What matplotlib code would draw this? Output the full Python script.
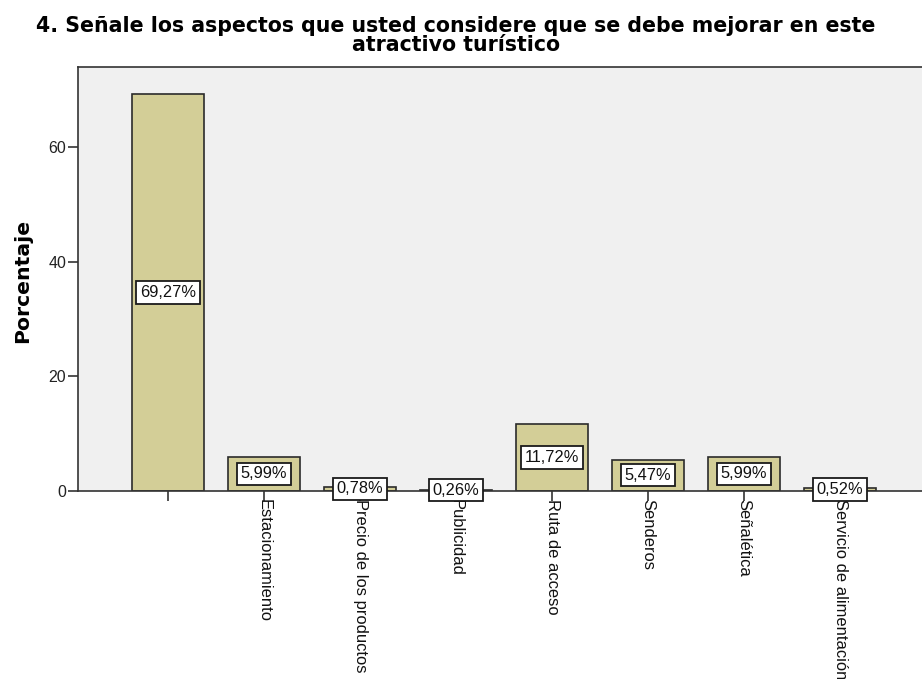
import matplotlib.pyplot as plt
import numpy as np

plt.rcParams['font.family'] = ['Liberation Sans', 'DejaVu Sans']

categories = ['', 'Estacionamiento', 'Precio de los productos', 'Publicidad',
              'Ruta de acceso', 'Senderos', 'Señalética', 'Servicio de alimentación']
percent = [69.27, 5.99, 0.78, 0.26, 11.72, 5.47, 5.99, 0.52]
y_ticks = [0, 20, 40, 60]
title_lines = ['4. Señale los aspectos que usted considere que se debe mejorar en este',
               'atractivo turístico']

fig = plt.figure(figsize=(9.22, 6.79), dpi=100)
ax = fig.add_axes([78 / 922, 1 - 491 / 679, (940 - 78) / 922, (491 - 67) / 679])
ax.set_facecolor('#f0f0f0')

x = np.arange(len(categories))
ax.bar(x, percent, width=0.75, color='#d3ce97', edgecolor='#2b2b2b', linewidth=1.2, zorder=2)

for xi, v in zip(x, percent):
    label = f'{v:.2f}'.replace('.', ',') + '%'
    ax.text(xi, v / 2, label, ha='center', va='center', fontsize=11.8, zorder=4, color='#111111',
            bbox=dict(boxstyle='square,pad=0.22', facecolor='white', edgecolor='#1a1a1a', linewidth=1.3))

ax.set_xlim((78 - 168) / 96, (940 - 168) / 96)
ax.set_ylim(0, (491 - 67) / (344 / 60))
ax.set_yticks(y_ticks)
ax.set_yticklabels([str(t) for t in y_ticks], fontsize=11.5, color='#222222')
ax.set_xticks(x)
ax.set_xticklabels(categories, rotation=-90, fontsize=11.9, va='top', ha='center', color='#111111')
ax.tick_params(axis='y', length=7, width=1.2, color='#333333', pad=1.5)
ax.tick_params(axis='x', length=7.5, width=1.2, color='#333333', pad=-2)

for side in ['left', 'top', 'bottom']:
    ax.spines[side].set_color('#333333')
    ax.spines[side].set_linewidth(1.2)
ax.spines['right'].set_visible(False)

fig.text(23 / 922, 1 - 281 / 679, 'Porcentaje', rotation=90, ha='center', va='center',
         fontsize=14.7, fontweight='bold', family='DejaVu Sans')

for line, base in zip(title_lines, [32, 51]):
    fig.text(456 / 922, 1 - base / 679, line, ha='center', va='baseline',
             fontsize=14.8, fontweight='bold', family='DejaVu Sans')

fig.savefig('out.png', dpi=100)
